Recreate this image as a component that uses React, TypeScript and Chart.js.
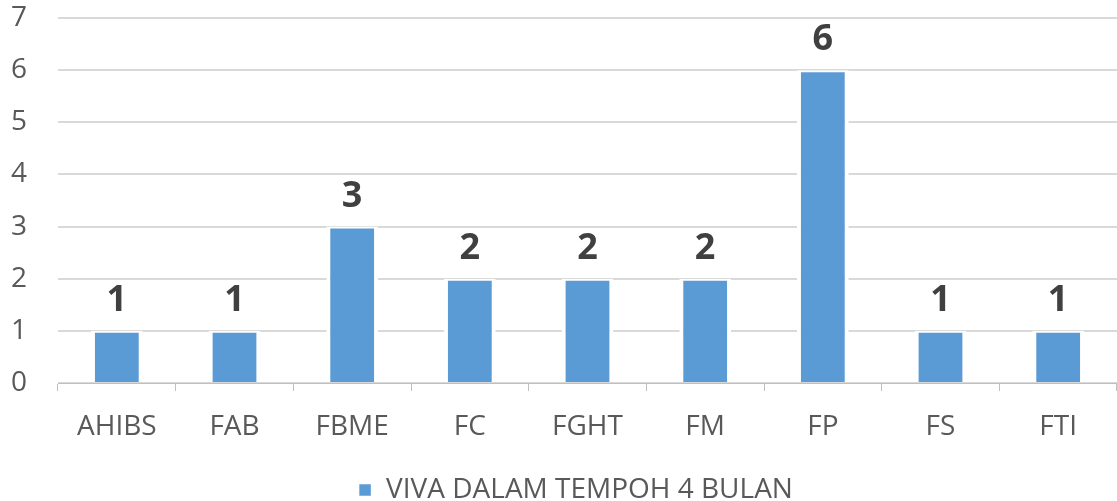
import React, { useEffect, useRef } from "react";
import { Chart, registerables } from "chart.js";

Chart.register(...registerables);

const categories = ["AHIBS", "FAB", "FBME", "FC", "FGHT", "FM", "FP", "FS", "FTI"];
const seriesName = "VIVA DALAM TEMPOH 4 BULAN";
const values = [1, 1, 3, 2, 2, 2, 6, 1, 1];
const yTicks = [0, 1, 2, 3, 4, 5, 6, 7];

const FONT = "'Open Sans', sans-serif";

const labelPlugin = {
  id: "barLabels",
  afterDatasetsDraw(chart: any) {
    const ctx = chart.ctx;
    const meta = chart.getDatasetMeta(0);
    ctx.save();
    ctx.font = `bold 36px ${FONT}`;
    ctx.fillStyle = "#404040";
    ctx.textAlign = "center";
    ctx.textBaseline = "bottom";
    meta.data.forEach((bar: any, i: number) => {
      ctx.fillText(String(values[i]), bar.x, bar.y - 12);
    });
    ctx.restore();
  },
};

const legendShift = {
  id: "legendShift",
  afterLayout(chart: any) {
    const l = chart.legend;
    if (l) {
      l.left += 17;
      l.right += 17;
    }
  },
};

export default function App() {
  const ref = useRef<HTMLCanvasElement | null>(null);
  useEffect(() => {
    document.body.style.margin = "0";
    const chart = new Chart(ref.current!, {
      type: "bar",
      data: {
        labels: categories,
        datasets: [
          {
            label: seriesName,
            data: values,
            backgroundColor: "#5b9bd5",
            borderColor: "#ffffff",
            borderWidth: { top: 2, left: 4, right: 4, bottom: 0 },
            borderSkipped: "bottom",
            barPercentage: 0.44,
            categoryPercentage: 1,
          },
        ],
      },
      options: {
        responsive: false,
        animation: false,
        layout: { padding: { top: 18, right: 0, left: 0, bottom: -13 } },
        plugins: {
          legend: {
            position: "bottom",
            labels: {
              boxWidth: 14,
              boxHeight: 14,
              color: "#595959",
              font: { family: FONT, size: 28, lineHeight: 1 },
              padding: 0,
            },
          },
          tooltip: { enabled: false },
        },
        scales: {
          x: {
            afterFit: (s: any) => {
              s.height = 93;
              s.paddingLeft = 0;
              s.paddingRight = 0;
            },
            grid: {
              display: true,
              drawOnChartArea: false,
              drawTicks: true,
              tickLength: 8,
              offset: true,
              color: "#bfbfbf",
            },
            border: { display: true, color: "#bfbfbf", width: 1 },
            ticks: {
              color: "#595959",
              font: { family: FONT, size: 28 },
              padding: 19,
            },
          },
          y: {
            min: 0,
            max: 7,
            afterFit: (s: any) => {
              s.width = 58;
              s.paddingTop = 0;
              s.paddingBottom = 0;
            },
            afterBuildTicks: (s: any) => {
              s.ticks = yTicks.map((v) => ({ value: v }));
            },
            grid: { color: "#d9d9d9", lineWidth: 2, drawTicks: false },
            border: { display: false },
            ticks: {
              color: "#595959",
              font: { family: FONT, size: 28 },
              padding: 31,
            },
          },
        },
      },
      plugins: [labelPlugin, legendShift],
    } as any);
    return () => chart.destroy();
  }, []);
  return <canvas ref={ref} width={1117} height={501} style={{ display: "block" }} />;
}
